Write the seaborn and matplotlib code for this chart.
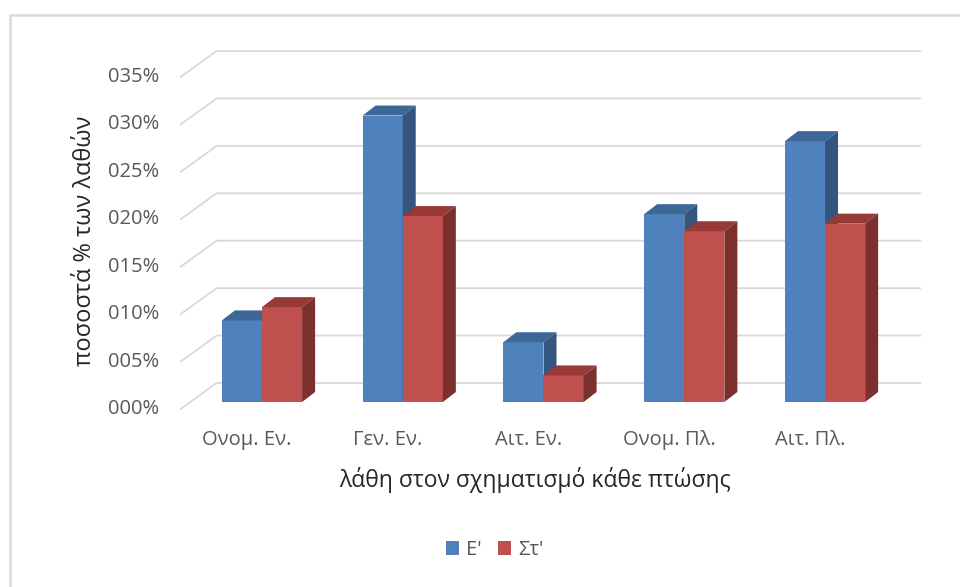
import matplotlib
matplotlib.use('Agg')
import matplotlib.pyplot as plt
import matplotlib.transforms as mtransforms
from matplotlib.patches import Polygon, Patch
from matplotlib.lines import Line2D
from matplotlib.colors import to_hex
import pandas as pd
import seaborn as sns

# data (units as shown on the axis, 0.30 -> "030%")
categories = ['Ονομ. Εν.', 'Γεν. Εν.', 'Αιτ. Εν.', 'Ονομ. Πλ.', 'Αιτ. Πλ.']
series_names = ["Ε'", "Στ'"]
values_e = [0.086, 0.302, 0.063, 0.198, 0.275]
values_st = [0.100, 0.196, 0.028, 0.180, 0.188]
y_ticks = [0.00, 0.05, 0.10, 0.15, 0.20, 0.25, 0.30, 0.35]
y_tick_labels = ['000%', '005%', '010%', '015%', '020%', '025%', '030%', '035%']

front_colors = {"Ε'": '#4F81BD', "Στ'": '#C0504D'}
top_colors = {"Ε'": '#3D6797', "Στ'": '#973A37'}
side_colors = {"Ε'": '#33557E', "Στ'": '#7C302E'}

df = pd.DataFrame({
    'case': categories * 2,
    'value': values_e + values_st,
    'class': [series_names[0]] * len(categories) + [series_names[1]] * len(categories),
})

sns.set_theme(style='white')
plt.rcParams['font.family'] = ['Open Sans', 'DejaVu Sans']

W, H = 960, 587
fig = plt.figure(figsize=(W / 100, H / 100), dpi=100)
ax = fig.add_axes([191.6 / W, (H - 402) / H, 703.8 / W, 332 / H])

sns.barplot(data=df, x='case', y='value', hue='class', order=categories,
            hue_order=series_names, palette=front_colors, saturation=1,
            width=0.57, gap=0, linewidth=0, legend=False, ax=ax)
ax.set_xlim(-0.5, 4.5)
ax.set_ylim(0, 0.35)
ax.set_axis_off()

ident = mtransforms.IdentityTransform()
front_off = (-11, -7)
back_off = (25, 19)
depth = (13, 10)
grid_color = '#D9D9D9'

# back wall gridlines + diagonals to the front wall
for t, lab in zip(y_ticks, y_tick_labels):
    x_l, y_l = ax.transData.transform((-0.5, t))
    x_r, y_r = ax.transData.transform((4.5, t))
    xs = [x_l + front_off[0], x_l + back_off[0], x_r + back_off[0]]
    ys = [y_l + front_off[1], y_l + back_off[1], y_r + back_off[1]]
    ax.add_line(Line2D(xs, ys, transform=ident, color=grid_color, lw=1.3,
                       zorder=0, clip_on=False))
    ax.text(x_l + front_off[0] - 21, y_l + front_off[1], lab, transform=ident,
            ha='right', va='center', fontsize=14.5, color='#595959')

# 3D faces for each bar
for bar in ax.patches:
    fc = to_hex(bar.get_facecolor())
    name = [k for k, v in front_colors.items() if v.lower() == fc][0]
    is_blue = name == series_names[0]
    bar.set_zorder(1 if is_blue else 3)
    x0, y0 = ax.transData.transform((bar.get_x(), bar.get_y()))
    x1, y1 = ax.transData.transform((bar.get_x() + bar.get_width(),
                                     bar.get_y() + bar.get_height()))
    dx, dy = depth
    top = Polygon([(x0, y1), (x1, y1), (x1 + dx, y1 + dy), (x0 + dx, y1 + dy)],
                  closed=True, transform=ident, facecolor=top_colors[name],
                  edgecolor='none', zorder=2 if is_blue else 4, clip_on=False)
    side = Polygon([(x1, y0), (x1, y1), (x1 + dx, y1 + dy), (x1 + dx, y0 + dy)],
                   closed=True, transform=ident, facecolor=side_colors[name],
                   edgecolor='none', zorder=2 if is_blue else 4, clip_on=False)
    ax.add_patch(top)
    ax.add_patch(side)

# category labels on the front edge
for i, cat in enumerate(categories):
    x, y = ax.transData.transform((i, 0))
    ax.text(x - 15, y - 38, cat, transform=ident, ha='center', va='center',
            fontsize=14.5, color='#595959')

fig.text(535 / W, 1 - 480 / H, 'λάθη στον σχηματισμό κάθε πτώσης',
         ha='center', va='center', fontsize=16.5, color='#262626')
fig.text(85 / W, 1 - 241 / H, 'ποσοστά % των λαθών', rotation=90,
         ha='center', va='center', fontsize=17, color='#262626')

handles = [Patch(facecolor=front_colors[s], edgecolor='none', label=s) for s in series_names]
leg = fig.legend(handles=handles, loc='center', bbox_to_anchor=(495 / W, 1 - 550 / H),
                 ncol=2, frameon=False, handlelength=0.65, handleheight=0.65,
                 handletextpad=0.35, columnspacing=0.8, fontsize=14.5)
for txt in leg.get_texts():
    txt.set_color('#595959')

# chart border (top and left visible)
fig.add_artist(Line2D([10 / W, 10 / W, 1], [0, 1 - 15 / H, 1 - 15 / H],
                      transform=fig.transFigure, color=grid_color, lw=1.8))

fig.savefig('out.png', dpi=100)
